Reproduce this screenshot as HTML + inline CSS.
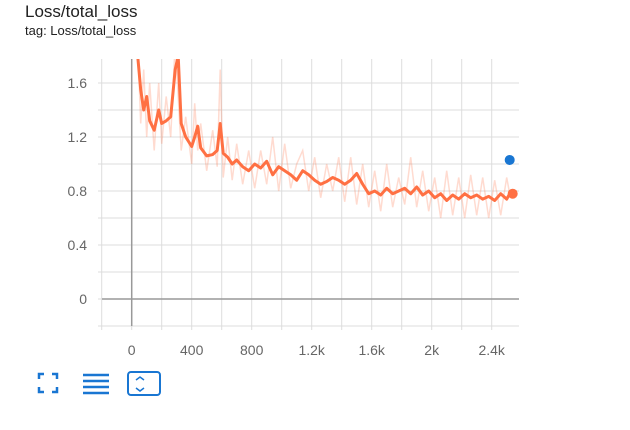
<!DOCTYPE html>
<html><head><meta charset="utf-8"><style>
body{margin:0;background:#fff;width:630px;height:430px;overflow:hidden;font-family:"Liberation Sans",sans-serif;}
#t{position:absolute;left:25px;top:2px;font-size:17px;color:#212121;}
#s{position:absolute;left:25px;top:23px;font-size:13px;color:#212121;}
svg{position:absolute;left:0;top:0}
</style></head><body>
<div id="t">Loss/total_loss</div>
<div id="s">tag: Loss/total_loss</div>
<svg id="c" width="630" height="430"></svg>
<script>
const steps=[40,60,80,100,120,150,180,200,230,260,290,310,330,360,400,420,440,460,500,540,570,590,610,640,670,700,740,780,820,860,900,940,980,1020,1060,1100,1140,1180,1220,1260,1300,1340,1380,1420,1460,1500,1540,1580,1620,1660,1700,1740,1780,1820,1860,1900,1940,1980,2020,2060,2100,2140,2180,2220,2260,2300,2340,2380,2420,2460,2500,2520];
const smoothed=[1.8,1.55,1.4,1.5,1.32,1.25,1.4,1.3,1.32,1.35,1.7,1.8,1.3,1.2,1.13,1.2,1.28,1.12,1.06,1.07,1.1,1.3,1.08,1.05,1.0,1.03,0.98,0.95,1.0,0.97,1.02,0.92,0.98,0.95,0.92,0.88,0.95,0.92,0.88,0.85,0.87,0.9,0.88,0.85,0.88,0.93,0.85,0.78,0.8,0.77,0.82,0.78,0.8,0.82,0.78,0.83,0.77,0.8,0.75,0.78,0.73,0.77,0.74,0.78,0.75,0.77,0.74,0.76,0.73,0.78,0.74,0.78];
const raw=[1.9,1.3,1.7,1.2,1.6,1.1,1.6,1.15,1.5,1.2,1.9,1.5,1.1,1.35,1.0,1.45,1.1,1.3,0.95,1.25,0.98,1.7,0.9,1.2,0.88,1.15,0.85,1.1,0.82,1.1,0.85,1.2,0.8,1.15,0.82,1.0,1.1,0.8,1.05,0.75,1.0,0.8,1.05,0.72,1.05,0.7,1.0,0.68,0.95,0.65,1.0,0.68,0.9,0.7,1.05,0.68,0.95,0.65,0.9,0.6,0.95,0.62,0.9,0.6,0.92,0.62,0.9,0.6,0.88,0.62,0.9,0.78];
const lastRaw={step:2520,value:1.03};
const xTicks=[0,400,800,1200,1600,2000,2400];
const xTickLabels=["0","400","800","1.2k","1.6k","2k","2.4k"];
const yTicks=[0,0.4,0.8,1.2,1.6];
const yTickLabels=["0","0.4","0.8","1.2","1.6"];
const X=v=>131.7+v*0.15, Y=v=>299-v*135;
const svg=document.getElementById('c'),NS='http://www.w3.org/2000/svg';
function mk(t,a,p){const e=document.createElementNS(NS,t);for(const k in a)e.setAttribute(k,a[k]);(p||svg).appendChild(e);return e;}
const L=102,R=519,T=59,B=326;
const clip=mk('clipPath',{id:'cp'});mk('rect',{x:L,y:T,width:R-L,height:B-T},clip);
for(let v=-200;v<=2600;v+=200){if(X(v)<L-1||X(v)>R)continue;
 const g=mk('line',{x1:X(v),x2:X(v),y1:T,y2:B+4,stroke:'#ddd','stroke-width':1});
 }
for(let v=-0.2;v<=1.8;v+=0.2){const y=Y(v);if(y<T-1||y>B+1)continue;
 const g=mk('line',{x1:L-4,x2:R,y1:y,y2:y,stroke:'#ddd','stroke-width':1});
 }
const za=mk('line',{x1:X(0),x2:X(0),y1:T,y2:B,stroke:'#999','stroke-width':1.5});

const zb=mk('line',{x1:L,x2:R,y1:Y(0),y2:Y(0),stroke:'#999','stroke-width':1.5});

xTicks.forEach((v,i)=>{const t=mk('text',{x:X(v),y:355,'text-anchor':'middle','font-size':14,fill:'#666'});t.textContent=xTickLabels[i];
 });
yTicks.forEach((v,i)=>{const t=mk('text',{x:87,y:Y(v)+5,'text-anchor':'end','font-size':14,fill:'#666'});t.textContent=yTickLabels[i];
 });
const pts=(arr)=>steps.map((s,i)=>X(s)+','+Y(arr[i])).join(' ');
const rl=mk('polyline',{points:pts(raw),fill:'none',stroke:'#ff7043','stroke-opacity':0.25,'stroke-width':1.5,'clip-path':'url(#cp)'});

const sl=mk('polyline',{points:pts(smoothed),fill:'none',stroke:'#ff7043','stroke-width':3,'stroke-linejoin':'round','clip-path':'url(#cp)'});

const d1=mk('circle',{cx:X(steps[steps.length-1])+3,cy:Y(smoothed[smoothed.length-1]),r:5,fill:'#ff7043'});

const d2=mk('circle',{cx:X(lastRaw.step),cy:Y(lastRaw.value),r:5,fill:'#1976d2'});

</script>
<svg width="630" height="430" style="pointer-events:none">
<g fill="none" stroke="#1976d2" stroke-width="2.5">
<path d="M39 379v-5h5M52 374h5v5M57 387v5h-5M44 392h-5v-5"/></g>
<g stroke="#1976d2" stroke-width="2.5">
<line x1="83" x2="109" y1="375" y2="375"/><line x1="83" x2="109" y1="381" y2="381"/><line x1="83" x2="109" y1="387" y2="387"/><line x1="83" x2="109" y1="393" y2="393"/></g>
<g fill="none" stroke="#1976d2" stroke-width="2">
<rect x="128" y="372" width="32" height="23" rx="3"/><path d="M136 380l4-3 4 3M136 388l4 3 4-3" stroke-width="1.5"/></g>
</svg>
</body></html>
